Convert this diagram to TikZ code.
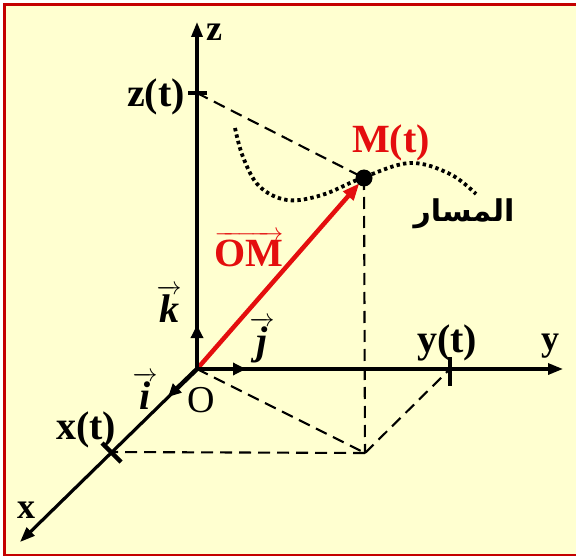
\documentclass[tikz,border=0pt]{standalone}
\usepackage{amsmath}
\usepackage{fontspec}
\setmainfont{Liberation Serif}
\newfontfamily\arabicfont[Script=Arabic]{DejaVu Sans}
\TeXXeTstate=1
\usetikzlibrary{arrows.meta, calc}

\definecolor{paper}{RGB}{255,255,208}
\definecolor{framered}{RGB}{196,0,0}
\definecolor{vecred}{RGB}{228,14,14}

\begin{document}
\begin{tikzpicture}[
    x=1pt, y=-1pt,
    axis/.style={line width=3.2pt, -{Triangle[length=15pt, width=11pt]}},
    unitvec/.style={line width=4.5pt, -{Triangle[length=13pt, width=12pt]}},
    proj/.style={line width=2.1pt, dash pattern=on 12pt off 7pt},
    traj/.style={line width=3.8pt, dash pattern=on 3.4pt off 3.2pt},
    tickmark/.style={line width=4.5pt},
    lbl/.style={font=\fontsize{40}{44}\selectfont\bfseries, inner sep=0pt},
    axlbl/.style={font=\fontsize{36}{40}\selectfont\bfseries, inner sep=0pt}
]

% ---- Page and frame ----
\useasboundingbox (0,0) rectangle (576,556);
\clip (0,0) rectangle (576,556);
\fill[white] (0,0) rectangle (576,556);
\fill[paper] (4.5,4.5) rectangle (590,555);
\draw[framered, line width=3pt] (4.5,4.5) rectangle (590,555);

% ---- Points ----
\coordinate (O) at (197,369);
\coordinate (zend) at (197,22);
\coordinate (yend) at (563,369);
\coordinate (xend) at (20,542);
\coordinate (M) at (364,178);
\coordinate (P) at (365,453);
\coordinate (zt) at (197,93);
\coordinate (yt) at (450,369);
\coordinate (xt) at (111,452);
\coordinate (itip) at (168,397);
\coordinate (jtip) at (246,369);
\coordinate (ktip) at (197,325);

% ---- Projections ----
\draw[proj] (zt) -- (M);
\draw[proj] (M) -- (P);
\draw[proj] (O) -- (P);
\draw[proj] (P) -- (yt);
\draw[proj] (P) -- (xt);

% ---- Trajectory ----
\draw[traj] plot[smooth, tension=0.6] coordinates {(235,128) (243,157) (259,186) (287,200) (322,195) (362,178) (410,163) (450,174) (476,194)};

% ---- Axes ----
\draw[axis] (O) -- (zend);
\draw[axis] (O) -- (yend);
\draw[axis] (O) -- (xend);

% ---- Position vector ----
\draw[vecred, line width=4.5pt, -{Triangle[length=17pt, width=13pt]}, shorten >=7pt] (O) -- (M);

% ---- Unit vectors ----
\draw[unitvec] (O) -- (itip);
\draw[unitvec] (O) -- (jtip);
\draw[unitvec] (O) -- (ktip);

% ---- Tick marks ----
\draw[tickmark] ($(zt)+(-9,0)$) -- ($(zt)+(10,0)$);
\draw[tickmark] ($(yt)+(0,-12)$) -- ($(yt)+(0,17)$);
\draw[tickmark] ($(xt)+(-9,-9)$) -- ($(xt)+(10,10)$);
\fill (M) circle (8.5pt);

% ---- Labels ----
\node[axlbl] (zlbl) at (214,32) {z};
\node[axlbl] (ylbl) at (550,346) {y};
\node[axlbl] (xlbl) at (26,510) {x};
\node[lbl] (ztlbl) at (156,97) {z(t)};
\node[lbl] (ytlbl) at (447,343) {y(t)};
\node[lbl] (xtlbl) at (86,430) {x(t)};
\node[lbl, text=vecred] (Mlbl) at (391,143) {M(t)};
\node[lbl, font=\fontsize{38}{42}\selectfont] (Olbl) at (201,400) {O};
\node[lbl] (ilbl) at (145,391) {$\overrightarrow{\textbf{\textit{i}}}$};
\node[lbl] (jlbl) at (262,340) {$\overrightarrow{\textbf{\textit{j}}}$};
\node[lbl] (klbl) at (169,304) {$\overrightarrow{\textbf{\textit{k}}}$};
\node[lbl, text=vecred] (OMlbl) at (249,249) {$\overrightarrow{\textbf{OM}}$};
\node[font=\arabicfont\fontsize{30}{32}\selectfont\bfseries, inner sep=0pt] (trajlbl) at (464,214) {\beginR المسار\endR};

\end{tikzpicture}
\end{document}
